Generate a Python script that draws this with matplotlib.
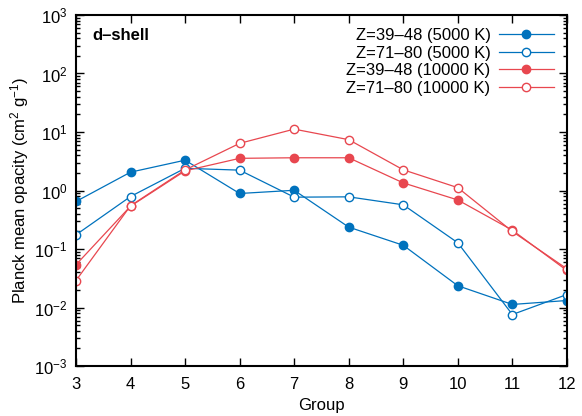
import matplotlib.pyplot as plt
import numpy as np
from matplotlib.ticker import LogLocator, NullFormatter

plt.rcParams['font.family'] = ['Liberation Sans', 'DejaVu Sans']
plt.rcParams['mathtext.fontset'] = 'custom'
plt.rcParams['mathtext.rm'] = 'Liberation Sans'
plt.rcParams['mathtext.it'] = 'Liberation Sans:italic'
plt.rcParams['mathtext.bf'] = 'Liberation Sans:bold'

# Planck mean opacities per group (d-shell elements)
groups = [3, 4, 5, 6, 7, 8, 9, 10, 11, 12]
light_5000 = [0.65, 2.06, 3.3, 0.89, 1.01, 0.237, 0.116, 0.0236, 0.0113, 0.0132]
heavy_5000 = [0.175, 0.79, 2.4, 2.23, 0.77, 0.78, 0.57, 0.128, 0.0076, 0.0167]
light_10000 = [0.054, 0.54, 2.17, 3.55, 3.63, 3.63, 1.35, 0.69, 0.21, 0.043]
heavy_10000 = [0.029, 0.55, 2.25, 6.4, 11.2, 7.4, 2.26, 1.12, 0.20, 0.046]

blue = '#0072BD'
red = '#E8474F'
fs = 12

fig = plt.figure(figsize=(5.82, 4.16), dpi=100)
ax = fig.add_axes([0.1306, 0.120, 0.8434, 0.844])

ax.plot(groups, light_5000, '-o', color=blue, lw=0.9, ms=6, label='Z=39–48 (5000 K)')
ax.plot(groups, heavy_5000, '-o', color=blue, lw=0.9, ms=6, mfc='white',
        mew=1.0, label='Z=71–80 (5000 K)')
ax.plot(groups, light_10000, '-o', color=red, lw=0.9, ms=6, label='Z=39–48 (10000 K)')
ax.plot(groups, heavy_10000, '-o', color=red, lw=0.9, ms=6, mfc='white',
        mew=1.0, label='Z=71–80 (10000 K)')

ax.set_yscale('log')
ax.set_xlim(3, 12)
ax.set_ylim(1e-3, 1e3)
ax.set_xticks(groups)
ax.yaxis.set_major_locator(LogLocator(base=10, numticks=10))
ax.yaxis.set_minor_locator(LogLocator(base=10, subs=np.arange(2, 10), numticks=20))
ax.yaxis.set_minor_formatter(NullFormatter())

ax.tick_params(which='both', direction='in', top=True, right=True, labelsize=fs,
               width=1.0, colors='black')
ax.tick_params(which='major', length=6, pad=6)
ax.tick_params(axis='x', which='major', pad=8)
ax.tick_params(which='minor', length=3)
for s in ax.spines.values():
    s.set_linewidth(1.5)

ax.set_xlabel('Group', fontsize=fs, labelpad=4)
ax.set_ylabel('Planck mean opacity (cm$^2$ g$^{-1}$)', fontsize=fs, labelpad=2)

ax.text(0.033, 0.962, 'd–shell', transform=ax.transAxes, fontsize=fs,
        fontweight='bold', va='top', ha='left')

leg = ax.legend(loc='upper right', markerfirst=False, frameon=False, fontsize=fs,
                handlelength=3.3, handletextpad=0.5, labelspacing=0.16,
                borderaxespad=0.38)

fig.savefig('out.png', dpi=100)
